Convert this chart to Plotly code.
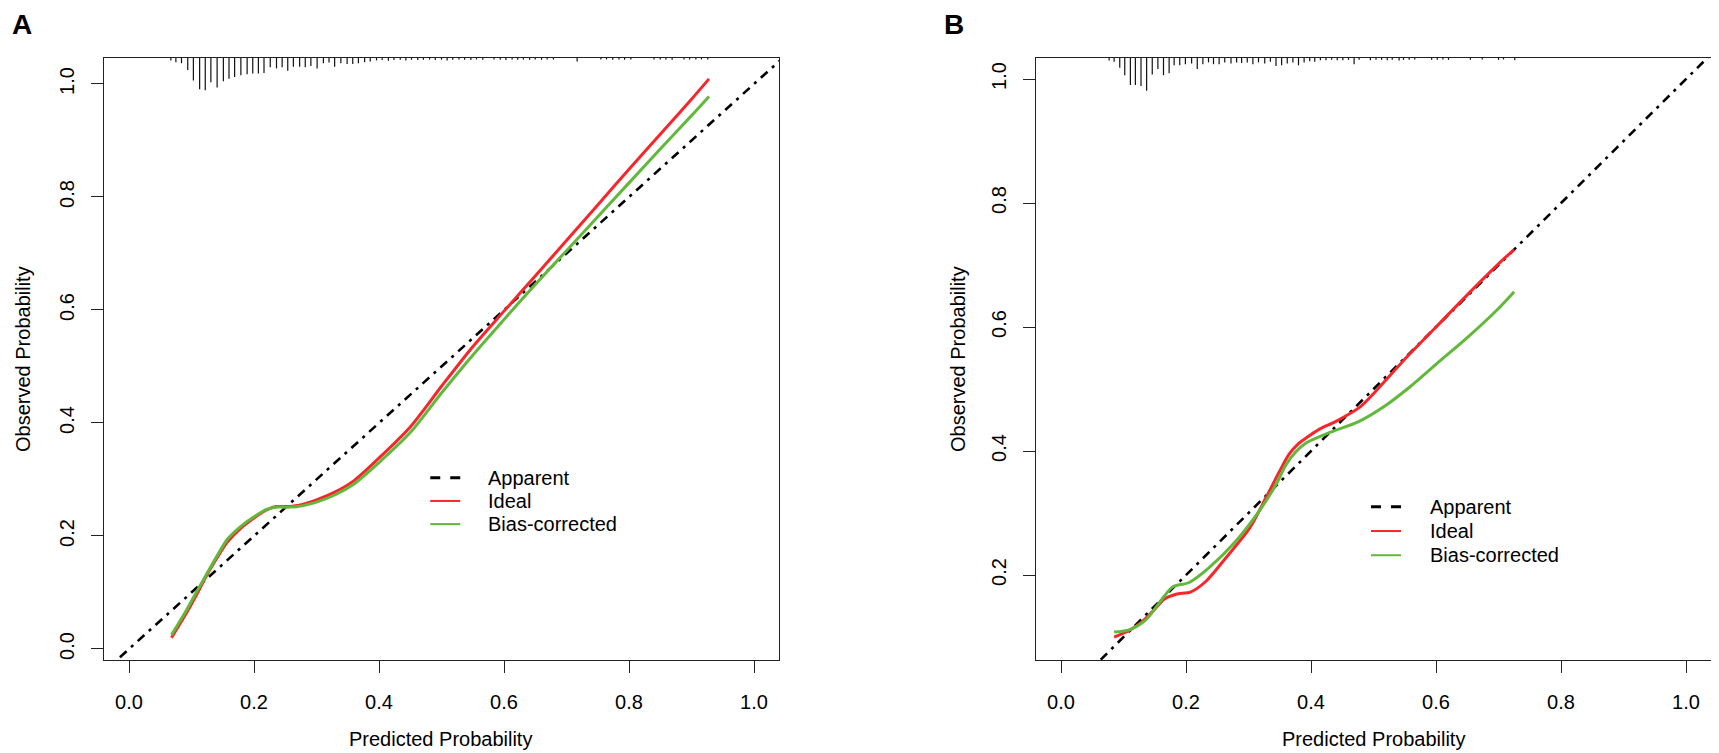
import plotly.graph_objects as go

# ---- panel A: calibration curves ----
a_ideal_x = [0.068, 0.09, 0.11, 0.123, 0.14, 0.158, 0.18, 0.20, 0.22, 0.235, 0.25, 0.27,
             0.30, 0.33, 0.36, 0.40, 0.45, 0.50, 0.55, 0.60, 0.65, 0.70, 0.75, 0.80,
             0.85, 0.90, 0.928]
a_ideal_y = [0.020, 0.060, 0.100, 0.128, 0.160, 0.190, 0.215, 0.232, 0.246, 0.252, 0.252, 0.254,
             0.264, 0.278, 0.298, 0.338, 0.393, 0.465, 0.535, 0.598, 0.660, 0.723, 0.786, 0.849,
             0.911, 0.973, 1.009]
a_bias_x = a_ideal_x
a_bias_y = [0.025, 0.065, 0.105, 0.130, 0.163, 0.195, 0.218, 0.234, 0.247, 0.251, 0.251, 0.252,
            0.260, 0.273, 0.292, 0.330, 0.383, 0.453, 0.520, 0.583, 0.645, 0.705, 0.765, 0.825,
            0.885, 0.944, 0.978]

# rug of predicted probabilities (position, relative frequency)
a_rug_x = [0.067, 0.075, 0.084, 0.094, 0.103, 0.113, 0.122, 0.131, 0.141, 0.151, 0.160, 0.169,
           0.179, 0.189, 0.198, 0.207, 0.216, 0.226, 0.236, 0.245, 0.254, 0.263, 0.273, 0.282,
           0.291, 0.301, 0.311, 0.320, 0.329, 0.339, 0.349, 0.358, 0.367, 0.377, 0.386, 0.396,
           0.405, 0.415, 0.424, 0.434, 0.443, 0.452, 0.462, 0.471, 0.481, 0.490, 0.500, 0.509,
           0.518, 0.528, 0.537, 0.547, 0.556, 0.566, 0.584, 0.594, 0.603, 0.613, 0.622, 0.631,
           0.641, 0.650, 0.660, 0.669, 0.679, 0.717, 0.755, 0.764, 0.774, 0.784, 0.793, 0.803,
           0.840, 0.850, 0.859, 0.869, 0.888, 0.897, 0.907, 0.916, 0.926]
a_rug_n = [7, 12, 15, 35, 65, 90, 93, 70, 85, 67, 60, 55,
           50, 47, 45, 45, 43, 27, 30, 27, 37, 25, 25, 27,
           23, 30, 15, 13, 25, 15, 17, 17, 15, 12, 10, 7,
           6, 8, 6, 5, 7, 5, 6, 5, 4, 6, 5, 7,
           5, 4, 5, 6, 4, 5, 4, 5, 6, 4, 5, 4,
           5, 4, 5, 4, 4, 10, 4, 4, 5, 4, 5, 4,
           4, 4, 4, 5, 4, 4, 4, 4, 4]

# ---- panel B ----
b_ideal_x = [0.085, 0.11, 0.131, 0.15, 0.165, 0.184, 0.208, 0.232, 0.264, 0.302, 0.328, 0.35,
             0.365, 0.38, 0.392, 0.413, 0.44, 0.477, 0.504, 0.55, 0.60, 0.65, 0.70, 0.725]
b_ideal_y = [0.100, 0.111, 0.126, 0.145, 0.161, 0.169, 0.173, 0.190, 0.228, 0.276, 0.325, 0.368,
             0.395, 0.412, 0.421, 0.435, 0.448, 0.470, 0.497, 0.548, 0.600, 0.652, 0.702, 0.725]
b_bias_x = [0.085, 0.11, 0.136, 0.163, 0.179, 0.205, 0.237, 0.28, 0.317, 0.344, 0.36, 0.375,
            0.392, 0.43, 0.477, 0.52, 0.56, 0.60, 0.65, 0.70, 0.725]
b_bias_y = [0.108, 0.112, 0.128, 0.163, 0.181, 0.188, 0.212, 0.255, 0.303, 0.346, 0.378, 0.398,
            0.413, 0.430, 0.448, 0.474, 0.505, 0.540, 0.583, 0.630, 0.657]

b_rug_x = [0.077, 0.085, 0.094, 0.102, 0.111, 0.119, 0.128, 0.137, 0.146, 0.155, 0.164, 0.173,
           0.181, 0.190, 0.199, 0.209, 0.218, 0.227, 0.236, 0.244, 0.253, 0.262, 0.272, 0.281,
           0.289, 0.298, 0.307, 0.316, 0.326, 0.335, 0.344, 0.353, 0.362, 0.371, 0.380, 0.389,
           0.398, 0.406, 0.415, 0.424, 0.433, 0.442, 0.451, 0.460, 0.469, 0.477, 0.495, 0.504,
           0.513, 0.522, 0.530, 0.541, 0.548, 0.557, 0.566, 0.593, 0.602, 0.611, 0.620, 0.655,
           0.674, 0.700, 0.708, 0.726]
b_rug_n = [7, 10, 27, 47, 74, 74, 77, 90, 45, 30, 47, 42,
           20, 20, 17, 15, 30, 17, 12, 17, 17, 12, 15, 12,
           14, 12, 17, 12, 15, 10, 22, 20, 15, 12, 20, 12,
           9, 10, 6, 6, 5, 6, 6, 5, 17, 5, 6, 5,
           5, 6, 5, 7, 5, 5, 4, 5, 5, 4, 5, 5,
           4, 5, 4, 6]

legend_labels = ["Apparent", "Ideal", "Bias-corrected"]
diag = [-0.1, 1.1]

RED, GREEN = "#F7262B", "#62B83A"
FONT = "Liberation Sans, Arial, sans-serif"
W, H = 1719, 753

panels = [
    dict(xa="x", ya="y", xr=[-0.04, 1.04], yr=[-0.0195, 1.046], yt=[0, 0.2, 0.4, 0.6, 0.8, 1.0],
         ideal=(a_ideal_x, a_ideal_y), bias=(a_bias_x, a_bias_y), rug=(a_rug_x, a_rug_n),
         rug_max=0.057, leg_x=(0.482, 0.530, 0.571), leg_y=(0.303, 0.262, 0.221)),
    dict(xa="x2", ya="y2", xr=[-0.04, 1.04], yr=[0.063, 1.034], yt=[0.2, 0.4, 0.6, 0.8, 1.0],
         ideal=(b_ideal_x, b_ideal_y), bias=(b_bias_x, b_bias_y), rug=(b_rug_x, b_rug_n),
         rug_max=0.053, leg_x=(0.496, 0.544, 0.587), leg_y=(0.310, 0.271, 0.232)),
]

fig = go.Figure()
shapes, annos = [], []
for p in panels:
    # rug hanging from the top of the box
    top = p["yr"][1]
    nmax = max(p["rug"][1])
    rx, ry = [], []
    for xv, n in zip(*p["rug"]):
        rx += [xv, xv, None]
        ry += [top, top - p["rug_max"] * n / nmax, None]
    fig.add_trace(go.Scatter(x=rx, y=ry, mode="lines", xaxis=p["xa"], yaxis=p["ya"],
                             line=dict(color="#111", width=1.2), hoverinfo="skip"))
    fig.add_trace(go.Scatter(x=diag, y=diag, mode="lines", xaxis=p["xa"], yaxis=p["ya"],
                             line=dict(color="black", width=2.6, dash="9px,6px,3px,6px")))
    fig.add_trace(go.Scatter(x=p["ideal"][0], y=p["ideal"][1], mode="lines",
                             xaxis=p["xa"], yaxis=p["ya"],
                             line=dict(color=RED, width=3, shape="spline", smoothing=0.8)))
    fig.add_trace(go.Scatter(x=p["bias"][0], y=p["bias"][1], mode="lines",
                             xaxis=p["xa"], yaxis=p["ya"],
                             line=dict(color=GREEN, width=3, shape="spline", smoothing=0.8)))
    # manual legend
    x0, x1, xt = p["leg_x"]
    styles = [dict(color="black", width=3, dash="10px,10px"),
              dict(color=RED, width=2), dict(color=GREEN, width=2)]
    for lab, yv, st in zip(legend_labels, p["leg_y"], styles):
        shapes.append(dict(type="line", xref=p["xa"], yref=p["ya"], x0=x0, x1=x1, y0=yv, y1=yv,
                           line=st))
        annos.append(dict(xref=p["xa"], yref=p["ya"], x=xt, y=yv, text=lab, showarrow=False,
                          xanchor="left", yanchor="middle", font=dict(size=20, color="black")))

ax_common = dict(showline=True, linecolor="#222", linewidth=1.4, mirror=True, ticks="outside",
                 ticklen=12, tickwidth=1.4, tickcolor="#222", showgrid=False, zeroline=False,
                 tickfont=dict(size=20, color="black"), tickformat=".1f")
xt_vals = [0, 0.2, 0.4, 0.6, 0.8, 1.0]
fig.update_layout(
    xaxis=dict(domain=[96 / W, 771 / W], range=panels[0]["xr"], tickvals=xt_vals,
               anchor="y", ticklabelstandoff=12, **ax_common),
    yaxis=dict(domain=[1 - 652 / H, 1 - 50 / H], range=panels[0]["yr"], tickvals=panels[0]["yt"],
               anchor="x", tickangle=-90, ticklabelstandoff=9, **ax_common),
    xaxis2=dict(domain=[1028 / W, 1703 / W], range=panels[1]["xr"], tickvals=xt_vals,
                anchor="y2", ticklabelstandoff=12, **ax_common),
    yaxis2=dict(domain=[1 - 652 / H, 1 - 50 / H], range=panels[1]["yr"], tickvals=panels[1]["yt"],
                anchor="x2", tickangle=-90, ticklabelstandoff=9, **ax_common),
)

# axis titles and panel letters
for cx, lx in [(433, 15), (1365, 950)]:
    annos.append(dict(xref="paper", yref="paper", x=cx / W, y=1 - 731 / H,
                      text="Predicted Probability", showarrow=False, xanchor="center",
                      yanchor="middle", font=dict(size=20, color="black")))
    annos.append(dict(xref="paper", yref="paper", x=lx / W, y=1 - 351 / H,
                      text="Observed Probability", showarrow=False, textangle=-90,
                      xanchor="center", yanchor="middle", font=dict(size=20, color="black")))
for letter, lx in [("A", 14), ("B", 946)]:
    annos.append(dict(xref="paper", yref="paper", x=lx / W, y=1 - 17 / H, text=f"<b>{letter}</b>",
                      showarrow=False, xanchor="center", yanchor="middle",
                      font=dict(size=28, color="black")))

fig.update_layout(width=W, height=H, margin=dict(l=0, r=0, t=0, b=0), showlegend=False,
                  paper_bgcolor="white", plot_bgcolor="white", font=dict(family=FONT),
                  shapes=shapes, annotations=annos)
fig.write_html("out.html")
